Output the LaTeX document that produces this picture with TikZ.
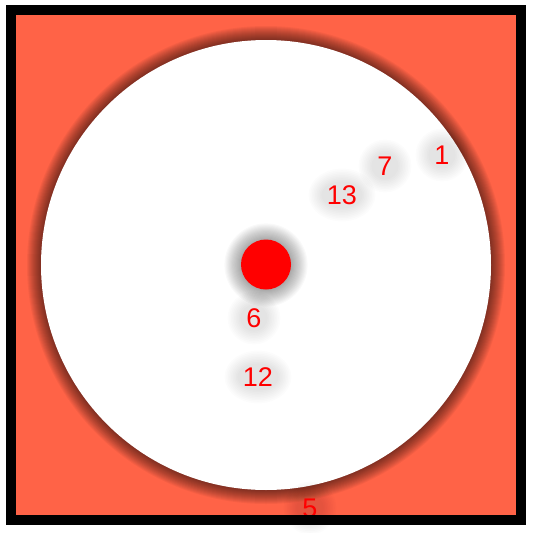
\documentclass[tikz,border=0pt]{standalone}
\usepackage{fontspec}
\setmainfont{Liberation Sans}
\definecolor{tomatobg}{HTML}{FF6347}
\tikzset{
  lbl/.style={text=red, font=\fontsize{27}{27}\selectfont, inner sep=0pt, anchor=center}
}
\begin{document}
\begin{tikzpicture}[x=1pt,y=-1pt]
\useasboundingbox (0,0) rectangle (533,533);
\fill[white] (0,0) rectangle (533,533);
% background
\fill[tomatobg] (11,10) rectangle (521,520);
% circle shadow
\foreach \d in {1,...,14}{
  \fill[black, opacity=0.045] (266,265) circle ({225+\d*1.0});
}
\node[circle, fill=white, minimum size=450pt, inner sep=0pt] (disc) at (266,265) {};
% dot shadow
\foreach \d in {1,...,16}{
  \fill[black, opacity=0.025] (266,265) circle ({24+\d*1.1});
}
\node[circle, fill=red, minimum size=50pt, inner sep=0pt] (dot) at (266,264.5) {};
% label glows
\foreach \x/\y/\w in {442/155/12, 385/166/12, 342/195/19, 254/318/12, 258/377/19, 310/508/12}{
  \foreach \d in {1,...,9}{
    \fill[black, opacity=0.011] (\x,\y) ellipse ({\w+\d*1.6} and {12+\d*1.6});
  }
}
\node[lbl] (l1) at (442,155) {1};
\node[lbl] (l7) at (385,166) {7};
\node[lbl] (l13) at (342,195) {13};
\node[lbl] (l6) at (254,318) {6};
\node[lbl] (l12) at (258,377) {12};
\node[lbl] (l5) at (310,508.5) {5};
% border
\draw[black, line width=10pt] (11,10) rectangle (521,520);
\end{tikzpicture}
\end{document}
